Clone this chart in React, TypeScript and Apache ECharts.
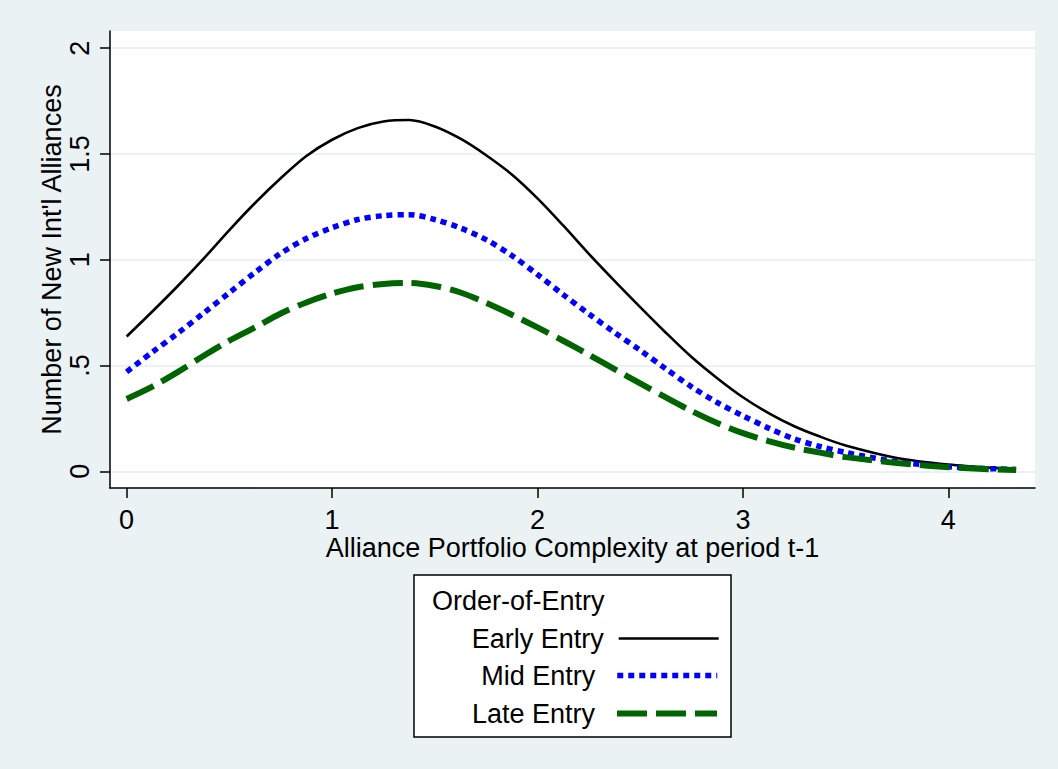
import React, { useEffect, useRef } from "react";
import * as echarts from "echarts";

const xValues = [0, 0.125, 0.25, 0.375, 0.5, 0.625, 0.75, 0.875, 1, 1.125, 1.25, 1.375, 1.5, 1.625, 1.75, 1.875, 2, 2.125, 2.25, 2.375, 2.5, 2.625, 2.75, 2.875, 3, 3.125, 3.25, 3.375, 3.5, 3.75, 4, 4.25, 4.33];
const earlyEntry = [0.637, 0.755, 0.877, 1.005, 1.14, 1.268, 1.385, 1.49, 1.567, 1.622, 1.653, 1.66, 1.63, 1.572, 1.494, 1.403, 1.29, 1.162, 1.028, 0.9, 0.776, 0.655, 0.54, 0.44, 0.35, 0.275, 0.213, 0.164, 0.122, 0.063, 0.032, 0.014, 0.011];
const midEntry = [0.47, 0.563, 0.653, 0.748, 0.844, 0.94, 1.03, 1.1, 1.151, 1.19, 1.208, 1.213, 1.19, 1.15, 1.095, 1.02, 0.93, 0.835, 0.744, 0.656, 0.572, 0.484, 0.399, 0.325, 0.262, 0.204, 0.153, 0.117, 0.089, 0.045, 0.021, 0.011, 0.009];
const lateEntry = [0.342, 0.4, 0.47, 0.546, 0.617, 0.68, 0.746, 0.798, 0.84, 0.87, 0.885, 0.89, 0.876, 0.845, 0.796, 0.74, 0.68, 0.617, 0.551, 0.483, 0.415, 0.349, 0.285, 0.228, 0.18, 0.143, 0.112, 0.088, 0.067, 0.039, 0.019, 0.008, 0.006];

const seriesNames = ["Early Entry", "Mid Entry", "Late Entry"];
const xTicks = [0, 1, 2, 3, 4];
const yTicks = [0, 0.5, 1, 1.5, 2];
const yTickLabels = ["0", ".5", "1", "1.5", "2"];
const xTitle = "Alliance Portfolio Complexity at period t-1";
const yTitle = "Number of New Int'l Alliances";
const legendTitle = "Order-of-Entry";

const FONT = "'Liberation Sans', Arial, Helvetica, sans-serif";
const FS = 27;
const BG = "#eaf2f3";

function pairs(ys: number[]) {
  return xValues.map((x, i) => [x, ys[i]]);
}

export default function App() {
  const ref = useRef<HTMLDivElement>(null);
  useEffect(() => {
    if (!ref.current) return;
    const chart = echarts.init(ref.current, null, { renderer: "svg" });
    const legendItem = (name: string, top: number, pad: number) => ({
      show: true,
      data: [name],
      orient: "vertical",
      align: "right",
      right: 338,
      top,
      padding: 0,
      itemWidth: 100,
      itemHeight: 24,
      selectedMode: false,
      lineStyle: { width: "inherit" },
      itemStyle: { opacity: 0 },
      textStyle: { fontSize: FS, color: "#000", fontFamily: FONT, padding: [0, pad, 0, 0] },
    });
    chart.setOption({
      animation: false,
      backgroundColor: BG,
      textStyle: { fontFamily: FONT },
      grid: {
        show: true,
        left: 110,
        top: 31,
        width: 925,
        height: 457,
        backgroundColor: "#ffffff",
        borderWidth: 0,
        containLabel: false,
      },
      xAxis: {
        type: "value",
        min: -0.081,
        max: 4.422,
        name: xTitle,
        nameLocation: "middle",
        nameGap: 46.5,
        nameMoveOverlap: false,
        nameTextStyle: { fontSize: FS, color: "#000", fontFamily: FONT },
        axisLine: { show: true, onZero: false, lineStyle: { color: "#000", width: 1.5 } },
        axisTick: { show: true, length: 10, lineStyle: { color: "#000", width: 1.5 }, customValues: xTicks },
        axisLabel: {
          show: true,
          fontSize: FS,
          color: "#000",
          fontFamily: FONT,
          margin: 18.5,
          customValues: xTicks,
          formatter: (v: number) => String(v),
        },
        splitLine: { show: false },
      },
      yAxis: {
        type: "value",
        min: -0.079,
        max: 2.081,
        name: yTitle,
        nameLocation: "middle",
        nameGap: 44.5,
        nameMoveOverlap: false,
        nameTextStyle: { fontSize: FS, color: "#000", fontFamily: FONT },
        axisLine: { show: true, onZero: false, lineStyle: { color: "#000", width: 1.5 } },
        axisTick: { show: true, length: 10, lineStyle: { color: "#000", width: 1.5 }, customValues: yTicks },
        axisLabel: {
          show: true,
          fontSize: FS,
          color: "#000",
          fontFamily: FONT,
          margin: 16.5,
          rotate: 90,
          customValues: yTicks,
          formatter: (v: number) => {
            const i = yTicks.findIndex((t) => Math.abs(t - v) < 1e-9);
            return i >= 0 ? yTickLabels[i] : "";
          },
        },
        splitLine: { show: true, lineStyle: { color: BG, width: 2 } },
      },
      legend: [
        legendItem(seriesNames[0], 625, 10),
        legendItem(seriesNames[1], 662, 17),
        legendItem(seriesNames[2], 700, 17),
      ],
      graphic: [
        {
          type: "rect",
          z: -1,
          shape: { x: 414, y: 575, width: 317, height: 162 },
          style: { fill: "#ffffff", stroke: "#000", lineWidth: 1.5 },
        },
        {
          type: "text",
          x: 432,
          y: 601,
          style: {
            text: legendTitle,
            fontSize: FS,
            fontFamily: FONT,
            fill: "#000",
            verticalAlign: "middle",
            align: "left",
          },
        },
      ],
      series: [
        {
          name: seriesNames[0],
          type: "line",
          data: pairs(earlyEntry),
          smooth: 0.3,
          symbol: "none",
          lineStyle: { color: "#000000", width: 2.6, type: "solid" },
          itemStyle: { color: "#000000" },
        },
        {
          name: seriesNames[1],
          type: "line",
          data: pairs(midEntry),
          smooth: 0.3,
          symbol: "none",
          lineStyle: { color: "#0000ff", width: 5.5, type: [6, 5], cap: "butt" },
          itemStyle: { color: "#0000ff" },
        },
        {
          name: seriesNames[2],
          type: "line",
          data: pairs(lateEntry),
          smooth: 0.3,
          symbol: "none",
          lineStyle: { color: "#006400", width: 6, type: [30, 9], cap: "butt" },
          itemStyle: { color: "#006400" },
        },
      ],
    });
    return () => chart.dispose();
  }, []);
  return (
    <div
      ref={ref}
      style={{ position: "absolute", left: 0, top: 0, width: 1058, height: 769 }}
    />
  );
}
